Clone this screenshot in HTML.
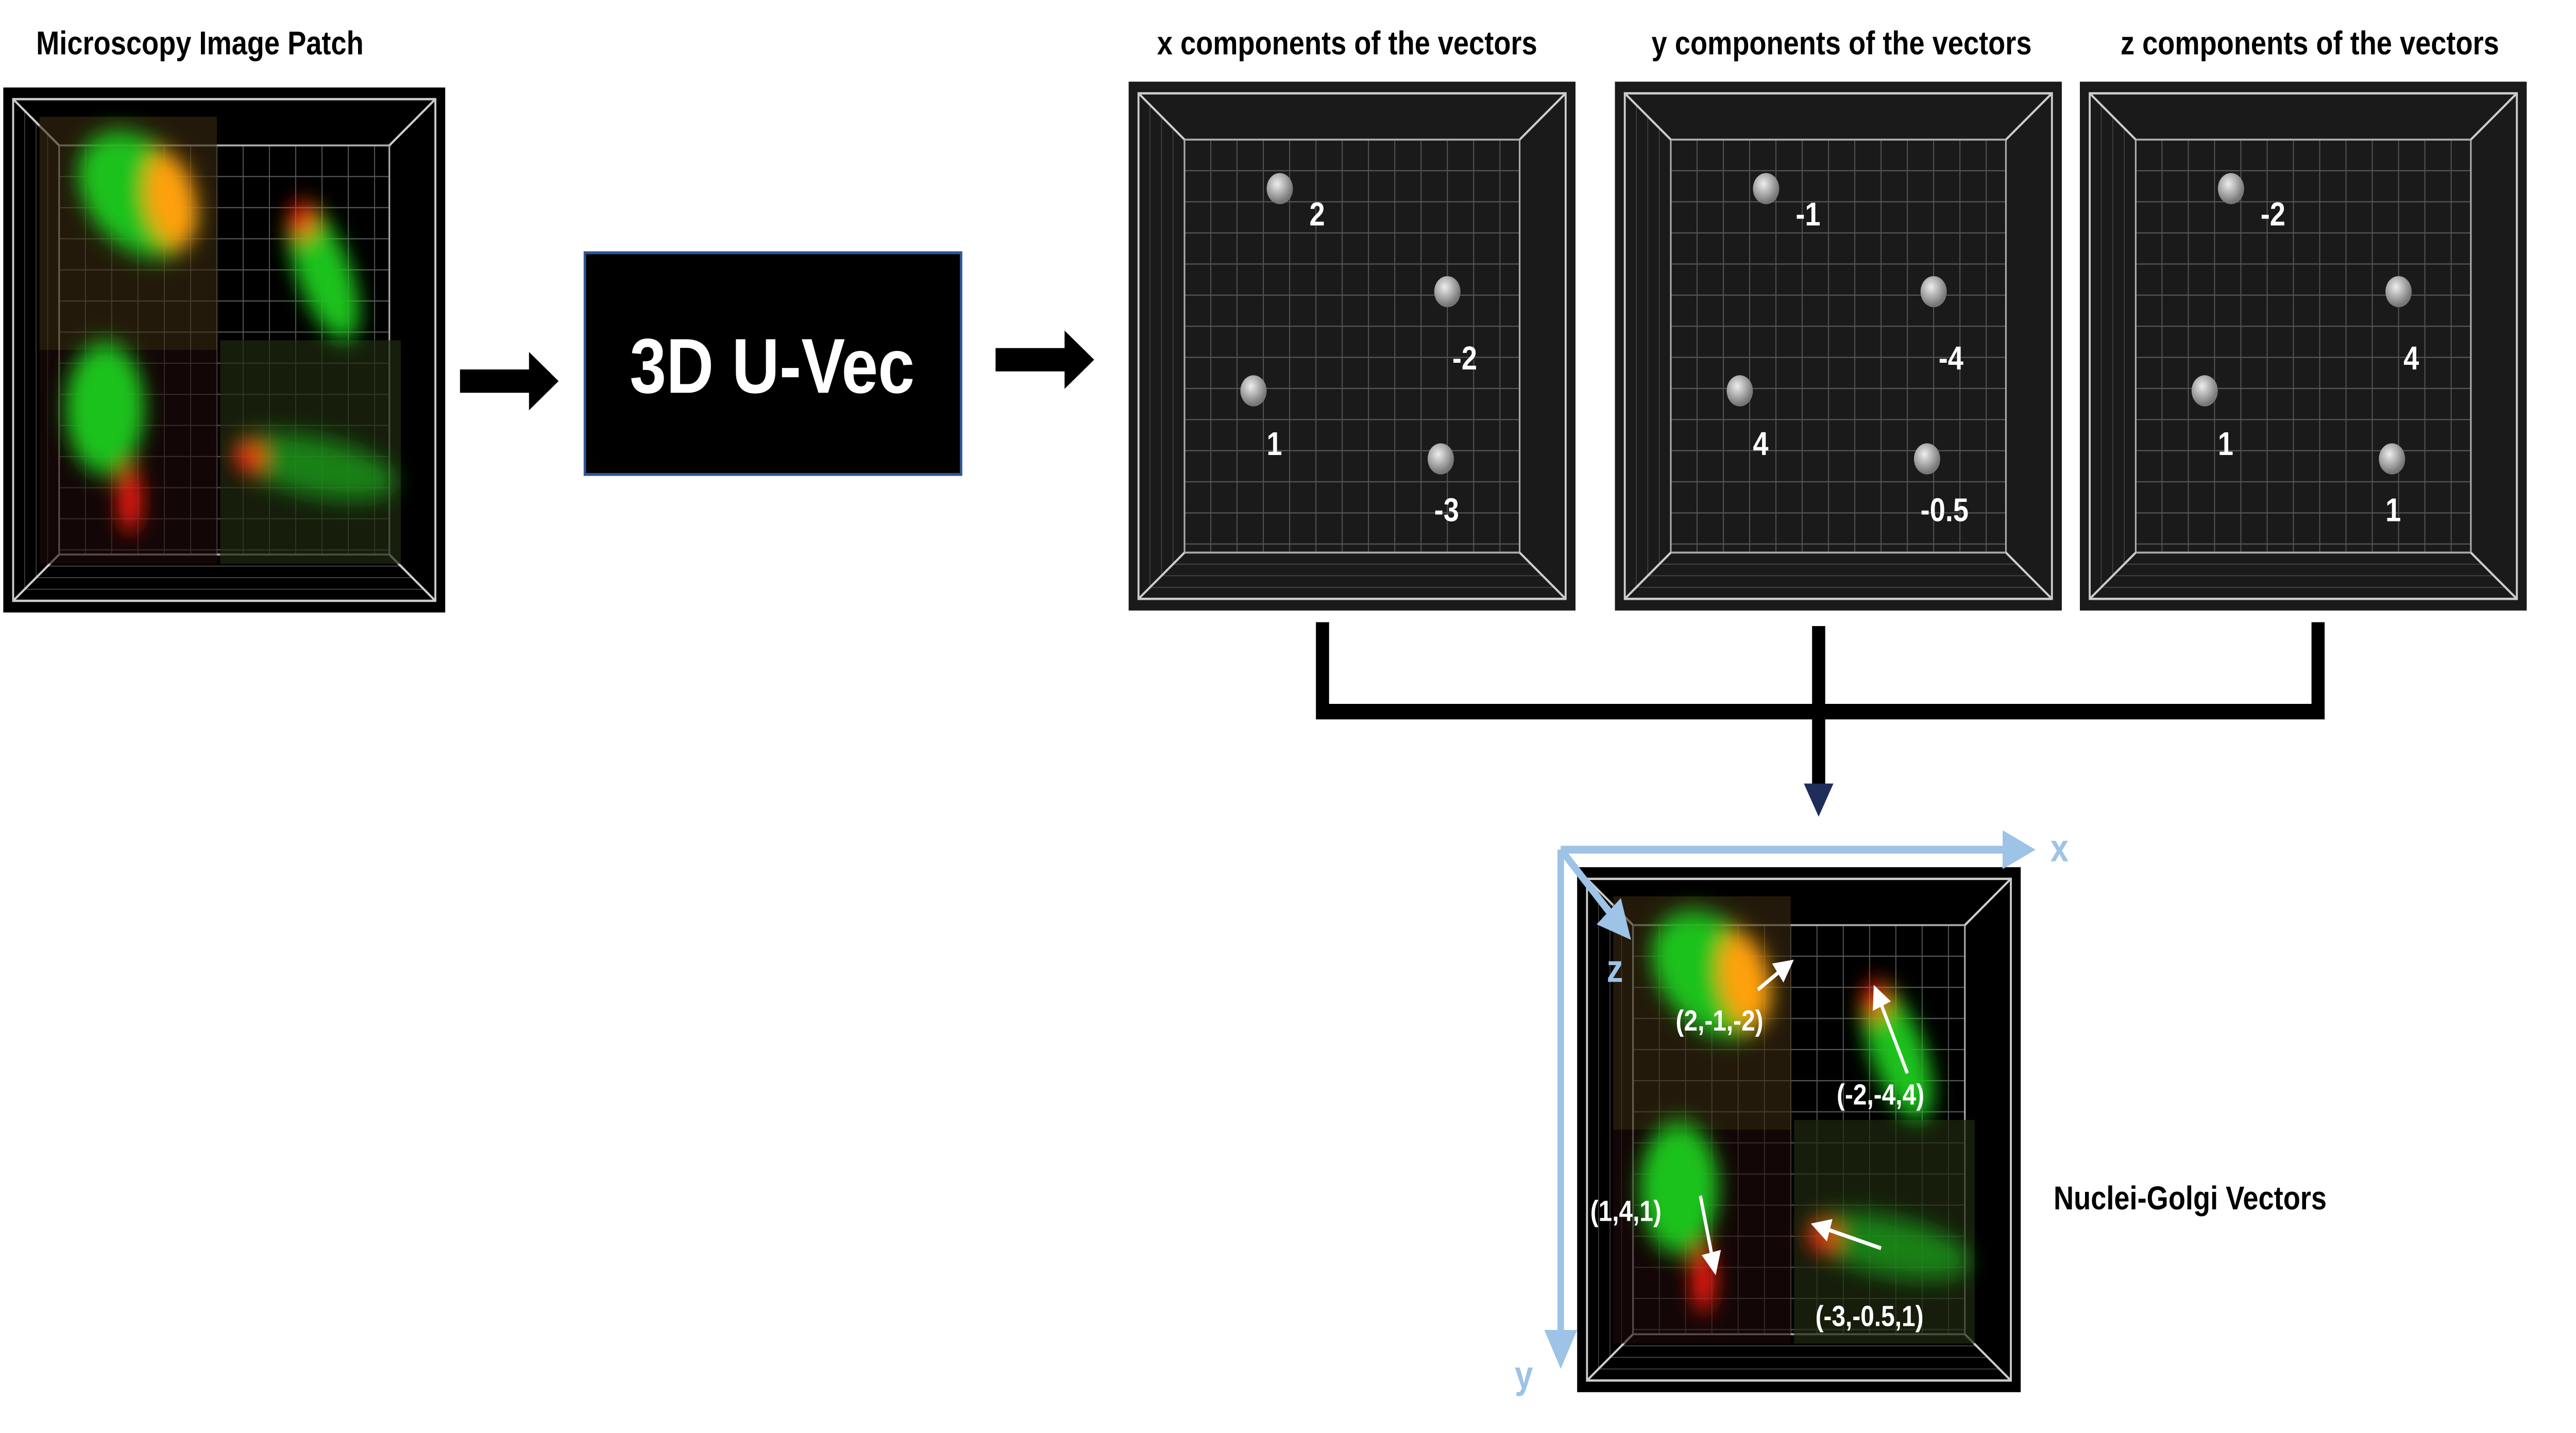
<!DOCTYPE html>
<html><head><meta charset="utf-8">
<style>
html,body{margin:0;padding:0;background:#fff;overflow:hidden;width:100%;height:100%;}
svg{display:block;width:100vw;height:100vh;}
text{font-family:"Liberation Sans",sans-serif;font-weight:bold;}
</style></head>
<body>
<svg id="fig" viewBox="0 0 1568 737" preserveAspectRatio="none" xmlns="http://www.w3.org/2000/svg">
<defs>
<filter id="blur" x="-50%" y="-50%" width="200%" height="200%"><feGaussianBlur stdDeviation="6"/></filter>
<radialGradient id="sph" cx="40%" cy="35%" r="60%"><stop offset="0" stop-color="#eee"/><stop offset="1" stop-color="#777"/></radialGradient>
<marker id="ah" markerWidth="6" markerHeight="6" refX="3" refY="3" orient="auto"><path d="M0,0L6,3L0,6z" fill="#fff"/></marker>
<marker id="ahb" markerWidth="5" markerHeight="5" refX="2.5" refY="2.5" orient="auto"><path d="M0,0L5,2.5L0,5z" fill="#9dc3e6"/></marker>
</defs>

<text x="22" y="28" font-size="17">Microscopy Image Patch</text>
<g id="p1"></g>

<path d="M280,190H322V181L340,196L322,211V202H280Z" fill="#000"/>
<g>
<rect x="356" y="130" width="229" height="114" fill="#000" stroke="#2f5597" stroke-width="1.5"/>
<text x="470" y="202" font-size="40" fill="#fff" text-anchor="middle">3D U-Vec</text>
</g>
<path d="M606,179H648V170L666,185L648,200V191H606Z" fill="#000"/>

<text x="820" y="28" font-size="17" text-anchor="middle">x components of the vectors</text>
<text x="1121" y="28" font-size="17" text-anchor="middle">y components of the vectors</text>
<text x="1406" y="28" font-size="17" text-anchor="middle">z components of the vectors</text>
<g id="comp"></g>

<g stroke="#000" stroke-width="8" fill="none">
<path d="M805,320V366H1411V320"/>
<path d="M1107,322V405"/>
</g>
<path d="M1098,403H1116L1107,420Z" fill="#1f2d5a"/>

<g id="p2"></g>
<g stroke="#9dc3e6" stroke-width="4" fill="none">
<path d="M950,437H1229" marker-end="url(#ahb)"/>
<path d="M950,437V694" marker-end="url(#ahb)"/>
<path d="M952,439L986,476" marker-end="url(#ahb)"/>
</g>
<text x="1248" y="443" font-size="20" fill="#9dc3e6">x</text>
<text x="922" y="714" font-size="20" fill="#9dc3e6">y</text>
<text x="978" y="505" font-size="20" fill="#9dc3e6">z</text>
<text x="1250" y="622" font-size="17">Nuclei-Golgi Vectors</text>
</svg>
<script>
const NS="http://www.w3.org/2000/svg";
const xComp=[2,-2,1,-3];
const yComp=[-1,-4,4,-0.5];
const zComp=[-2,4,1,1];
const compSets=[xComp,yComp,zComp];
function el(t,a,p){const e=document.createElementNS(NS,t);for(const k in a)e.setAttribute(k,a[k]);p.appendChild(e);return e;}
function box3d(g,x,y,w,h,bg){
  el('rect',{x:x,y:y,width:w,height:h,fill:bg},g);
  const o=6,ins=28;
  const ox=x+o,oy=y+o,ow=w-2*o,oh=h-2*o;
  const ix=x+o+ins,iy=y+o+ins*0.85,iw=w-2*o-2*ins,ih=h-2*o-2*ins*0.85;
  const gs=16;
  for(let i=ix;i<=ix+iw;i+=gs)el('line',{x1:i,y1:iy,x2:i,y2:iy+ih,stroke:'#555','stroke-width':0.6},g);
  for(let j=iy;j<=iy+ih;j+=gs)el('line',{x1:ix,y1:j,x2:ix+iw,y2:j,stroke:'#555','stroke-width':0.6},g);
  for(let k=1;k<4;k++){const t=k/4;
    el('line',{x1:ox+ins*t,y1:oy+ins*0.85*t,x2:ox+ins*t,y2:oy+oh-ins*0.85*t,stroke:'#444','stroke-width':0.5},g);
    el('line',{x1:ox+ins*t,y1:oy+oh-ins*0.85*t,x2:ox+ow-ins*t,y2:oy+oh-ins*0.85*t,stroke:'#444','stroke-width':0.5},g);}
  el('rect',{x:ox,y:oy,width:ow,height:oh,fill:'none',stroke:'#ccc','stroke-width':1.2},g);
  el('rect',{x:ix,y:iy,width:iw,height:ih,fill:'none',stroke:'#aaa','stroke-width':1},g);
  [[ox,oy,ix,iy],[ox+ow,oy,ix+iw,iy],[ox,oy+oh,ix,iy+ih],[ox+ow,oy+oh,ix+iw,iy+ih]].forEach(c=>el('line',{x1:c[0],y1:c[1],x2:c[2],y2:c[3],stroke:'#ccc','stroke-width':1.2},g));
}
function cells(g,x,y){
  el('rect',{x:x+22,y:y+15,width:108,height:120,fill:'#3a2a10',opacity:0.6},g);
  el('rect',{x:x+132,y:y+130,width:110,height:115,fill:'#1f2a10',opacity:0.7},g);
  el('rect',{x:x+22,y:y+135,width:108,height:110,fill:'#200a0a',opacity:0.6},g);
  const b=el('g',{filter:'url(#blur)'},g);
  el('ellipse',{cx:x+82,cy:y+55,rx:40,ry:28,fill:'#1fc21f',transform:`rotate(35 ${x+82} ${y+55})`},b);
  el('ellipse',{cx:x+102,cy:y+58,rx:15,ry:25,fill:'#ffa010',transform:`rotate(-15 ${x+102} ${y+58})`},b);
  el('ellipse',{cx:x+195,cy:y+95,rx:16,ry:38,fill:'#1ec21e',transform:`rotate(-25 ${x+195} ${y+95})`},b);
  el('ellipse',{cx:x+182,cy:y+68,rx:8,ry:9,fill:'#ff1a10'},b);
  el('ellipse',{cx:x+62,cy:y+165,rx:24,ry:34,fill:'#1ec21e'},b);
  el('ellipse',{cx:x+77,cy:y+212,rx:7,ry:17,fill:'#ff1a10'},b);
  el('ellipse',{cx:x+190,cy:y+195,rx:50,ry:15,fill:'#1a9a1a',opacity:0.8,transform:`rotate(10 ${x+190} ${y+195})`},b);
  el('ellipse',{cx:x+150,cy:y+190,rx:10,ry:7,fill:'#ff1a10'},b);
}
const p1=document.getElementById('p1');
box3d(p1,2,45,269,270,'#000');cells(p1,2,45);
const p2=document.getElementById('p2');
box3d(p2,960,446,270,270,'#000');cells(p2,960,446);
const vecs=[[1070,509,1087,497,'(2,-1,-2)',1020,530],[1161,552,1143,512,'(-2,-4,4)',1118,568],[1035,615,1043,650,'(1,4,1)',968,628],[1145,642,1108,631,'(-3,-0.5,1)',1105,682]];
vecs.forEach((v,i)=>{
  const l=el('line',{x1:v[0],y1:v[1],x2:v[2],y2:v[3],stroke:'#fff','stroke-width':2,'marker-end':'url(#ah)'},p2);
  
  
  const t=el('text',{x:v[5],y:v[6],'font-size':15,fill:'#fff'},p2);t.textContent=v[4];
  
  
});
const panelX=[687,983,1266];
const sph=[[92,55],[194,108],[76,159],[190,194]];
const lab=[[110,74],[197,148],[84,192],[186,226]];
const comp=document.getElementById('comp');
compSets.forEach((arr,pi)=>{
  const g=el('g',{},comp);
  
  
  const X=panelX[pi];
  box3d(g,X,42,272,272,'#1a1a1a');
  arr.forEach((val,i)=>{
    const s=el('circle',{cx:X+sph[i][0],cy:42+sph[i][1],r:8,fill:'url(#sph)'},g);
    
    
    const t=el('text',{x:X+lab[i][0],y:42+lab[i][1],'font-size':17,fill:'#fff'},g);
    t.textContent=String(val);
    
    
  });
});
</script>
</body></html>
